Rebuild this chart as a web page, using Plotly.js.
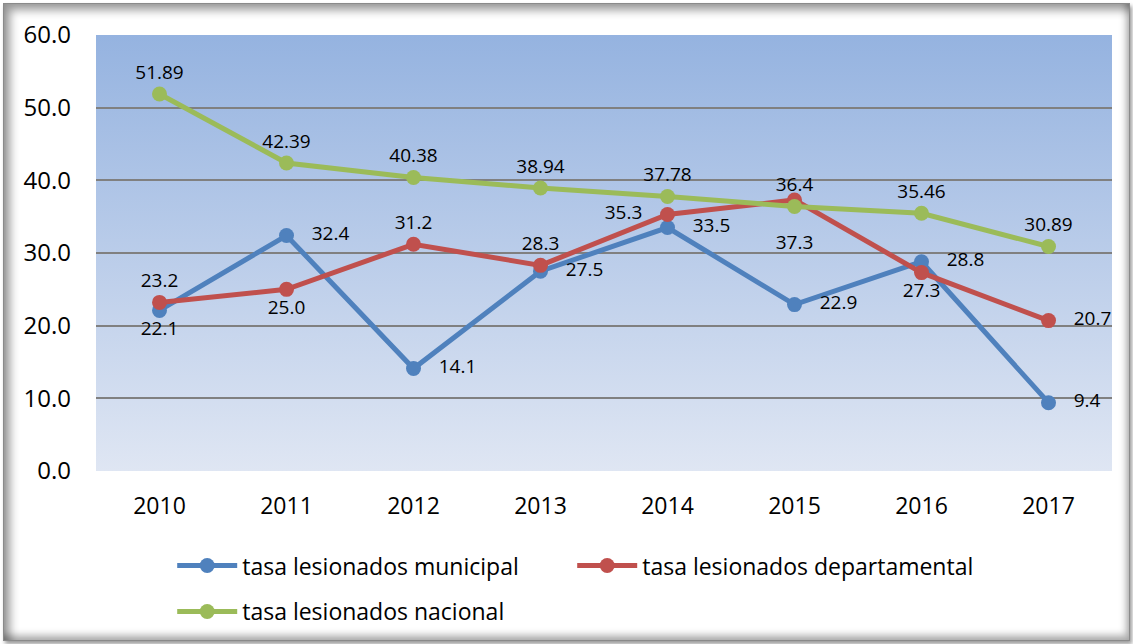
<!DOCTYPE html>
<html><head><meta charset="utf-8">
<script src="https://cdn.plot.ly/plotly-3.0.1.min.js"></script>
<style>
html,body{margin:0;padding:0;background:#fff;}
#wrap{position:relative;width:1133px;height:644px;overflow:hidden;}
#chart{position:absolute;left:0;top:0;width:1133px;height:644px;}
#frame{position:absolute;left:3px;top:3px;width:1125px;height:636px;border:1px solid #8a8a8a;
 box-shadow: inset 6px 6px 10px rgba(0,0,0,0.4), inset -3px -5px 7px rgba(0,0,0,0.3), 2px 3px 4px rgba(0,0,0,0.4);pointer-events:none;}
</style></head>
<body><div id="wrap"><div id="chart"></div><div id="frame"></div></div>
<script>
const years = ['2010','2011','2012','2013','2014','2015','2016','2017'];
const municipal = [22.1, 32.4, 14.1, 27.5, 33.5, 22.9, 28.8, 9.4];
const departamental = [23.2, 25.0, 31.2, 28.3, 35.3, 37.3, 27.3, 20.7];
const nacional = [51.89, 42.39, 40.38, 38.94, 37.78, 36.4, 35.46, 30.89];
const municipalLabels = ['22.1','32.4','14.1','27.5','33.5','22.9','28.8','9.4'];
const departamentalLabels = ['23.2','25.0','31.2','28.3','35.3','37.3','27.3','20.7'];
const nacionalLabels = ['51.89','42.39','40.38','38.94','37.78','36.4','35.46','30.89'];
const yTicks = [0,10,20,30,40,50,60];
const yTickText = ['0.0','10.0','20.0','30.0','40.0','50.0','60.0'];

const FONT = 'Open Sans, Noto Sans, sans-serif';
const lblFont = {family: FONT, size: 19, color: '#000'};
const SP = '\u00a0\u00a0\u00a0';

const grad = 'data:image/svg+xml;utf8,' + encodeURIComponent(
 '<svg xmlns="http://www.w3.org/2000/svg" width="100" height="100" preserveAspectRatio="none">' +
 '<defs><linearGradient id="g" x1="0" y1="0" x2="0" y2="1">' +
 '<stop offset="0" stop-color="#95b3e0"/><stop offset="1" stop-color="#dfe6f3"/></linearGradient></defs>' +
 '<rect width="100" height="100" fill="url(#g)"/></svg>');

const traces = [
 {x: years, y: municipal, name: 'tasa lesionados municipal', mode: 'lines+markers+text',
  text: municipalLabels,
  texttemplate: ['%{text}', SP+'%{text}', SP+'%{text}', SP+'%{text}', SP+'%{text}', SP+'%{text}', SP+'%{text}', SP+'%{text}'],
  textposition: ['bottom center','middle right','middle right','middle right','middle right','middle right','middle right','middle right'],
  line: {color: '#4f81bd', width: 5}, marker: {color: '#4f81bd', size: 15}, textfont: lblFont, cliponaxis: false, legend: 'legend'},
 {x: years, y: departamental, name: 'tasa lesionados departamental', mode: 'lines+markers+text',
  text: departamentalLabels,
  texttemplate: ['%{text}','%{text}','%{text}','%{text}','%{text}'+SP,'<br>%{text}','%{text}', SP+'%{text}'],
  textposition: ['top center','bottom center','top center','top center','middle left','bottom center','bottom center','middle right'],
  line: {color: '#c0504d', width: 5}, marker: {color: '#c0504d', size: 15}, textfont: lblFont, cliponaxis: false, legend: 'legend'},
 {x: years, y: nacional, name: 'tasa lesionados nacional', mode: 'lines+markers+text',
  text: nacionalLabels,
  textposition: 'top center',
  line: {color: '#9bbb59', width: 5}, marker: {color: '#9bbb59', size: 15}, textfont: lblFont, cliponaxis: false, legend: 'legend2'}
];

const layout = {
 width: 1133, height: 644,
 margin: {l: 96, r: 21, t: 35, b: 172},
 paper_bgcolor: 'rgba(0,0,0,0)', plot_bgcolor: 'rgba(0,0,0,0)',
 font: {family: FONT, color: '#000'},
 images: [{source: grad, xref: 'paper', yref: 'paper', x: 0, y: 1, sizex: 1, sizey: 1,
   xanchor: 'left', yanchor: 'top', sizing: 'stretch', layer: 'below'}],
 xaxis: {type: 'category', range: [-0.5, 7.5], showgrid: false, zeroline: false, showline: false,
   tickfont: {family: FONT, size: 23, color: '#000'}, ticks: '', ticklabelstandoff: 19},
 yaxis: {range: [0, 60], tickvals: yTicks, ticktext: yTickText, showgrid: true, gridcolor: '#808080', gridwidth: 1.8,
   zeroline: false, showline: false, ticks: '', tickfont: {family: FONT, size: 24, color: '#000'}, ticklabelstandoff: 24},
 legend: {orientation: 'h', x: 0.075, xanchor: 'left', y: -0.165, yanchor: 'top',
   font: {family: FONT, size: 23, color: '#000'}, bgcolor: 'rgba(0,0,0,0)', entrywidth: 325, itemwidth: 60},
 legend2: {orientation: 'h', x: 0.075, xanchor: 'left', y: -0.27, yanchor: 'top',
   font: {family: FONT, size: 23, color: '#000'}, bgcolor: 'rgba(0,0,0,0)', itemwidth: 60},
 showlegend: true
};
Plotly.newPlot('chart', traces, layout, {displayModeBar: false, staticPlot: true});
</script></body></html>
